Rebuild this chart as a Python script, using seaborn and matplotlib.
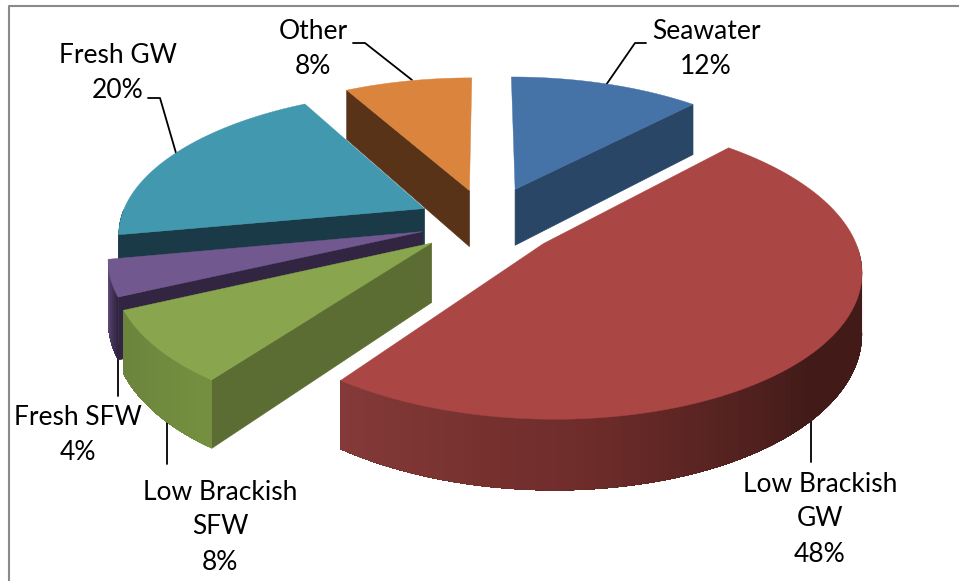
import numpy as np
import matplotlib
matplotlib.use("Agg")
import matplotlib.pyplot as plt
from matplotlib.colors import LinearSegmentedColormap
import seaborn as sns

# Data
names = ["Seawater", "Low Brackish\nGW", "Low Brackish\nSFW", "Fresh SFW", "Fresh GW", "Other"]
shares = [12, 48, 8, 4, 20, 8]

top_colors = ["#4572a7", "#aa4643", "#89a54e", "#71588f", "#4198af", "#db843d"]
wall_colors = ["#2a4666", "#421b19", "#5c6d33", "#322542", "#1b3a47", "#593318"]
rim_colors = [
    ["#2a4666", "#2a4666"],
    ["#421b19", "#421b19", "#6e2c2a", "#843a38"],
    ["#74903f", "#6b833c"],
    ["#322542", "#6d558a"],
    ["#1b3a47", "#1b3a47"],
    ["#593318", "#593318"],
]
explode = [0.26, 0.235, 0.23, 0.22, 0.23, 0.24]

label_pos = [(706, 49), (820, 519), (220, 527), (78, 435), (118, 73), (313, 49)]
leaders = [
    [(646, 43), (635, 43), (606, 85)],
    [(811, 462), (811, 416)],
    [(167, 464), (167, 417)],
    [(118, 396), (118, 345)],
    [(148, 98), (160, 98), (176, 153)],
    [(353, 43), (365, 43), (412, 80)],
]

# projection of the pie plane onto the picture
CX, CY = 487, 222
RX, RY = 305, 140
PERSP = 0.16
DEPTH = 58


def project(x, y, down=0.0):
    s = 1 / (1 + PERSP * y)
    return CX + RX * x * s, CY - RY * y * s + DEPTH * down * s


sns.set_theme(style="white")
plt.rcParams["font.family"] = ["Lato", "DejaVu Sans"]

fig = plt.figure(figsize=(9.59, 5.81), dpi=100)
ax = fig.add_axes([0, 0, 1, 1])
ax.set_xlim(0, 959)
ax.set_ylim(581, 0)
ax.axis("off")

ax.plot([9, 9, 959], [581, 6, 6], color="#8a8a8a", lw=1.5)

edges = np.cumsum([0] + shares) * 3.6
draw_order = [5, 0, 4, 3, 2, 1]

for i in draw_order:
    a0, a1 = np.radians(edges[i]), np.radians(edges[i + 1])
    mid = (a0 + a1) / 2
    ox, oy = explode[i] * np.sin(mid), explode[i] * np.cos(mid)
    arc = np.linspace(a0, a1, 120)
    arc_x = ox + np.sin(arc)
    arc_y = oy + np.cos(arc)

    # cut faces which look towards the viewer
    for a, visible in [(a0, np.sin(a0) < -1e-6), (a1, np.sin(a1) > 1e-6)]:
        if visible:
            rx, ry = ox + np.sin(a), oy + np.cos(a)
            p = [project(ox, oy), project(rx, ry), project(rx, ry, 1), project(ox, oy, 1)]
            ax.fill(*zip(*p), color=wall_colors[i], lw=0.5, zorder=2)

    # outer rim, each strip runs to the end of the arc so no seams show
    cmap = LinearSegmentedColormap.from_list("rim", rim_colors[i])
    front = np.where(np.cos(arc) < 0)[0]
    for j in front[:-1]:
        t = (j - front[0]) / max(len(front) - 1, 1)
        upper = [project(arc_x[k], arc_y[k]) for k in front if k >= j]
        lower = [project(arc_x[k], arc_y[k], 1) for k in front if k >= j]
        ax.fill(*zip(*(upper + lower[::-1])), color=cmap(t), lw=0, zorder=2)

    # top face
    top = [project(ox, oy)] + [project(x, y) for x, y in zip(arc_x, arc_y)]
    ax.fill(*zip(*top), color=top_colors[i], lw=0.3, zorder=2)

for pts in leaders:
    ax.plot(*zip(*pts), color="black", lw=1.3, zorder=1)

for name, share, (x, y) in zip(names, shares, label_pos):
    ax.text(x, y, f"{name}\n{share}%", ha="center", va="center", fontsize=19,
            color="black", linespacing=1.5, zorder=5)

fig.savefig("out.png", dpi=100)
